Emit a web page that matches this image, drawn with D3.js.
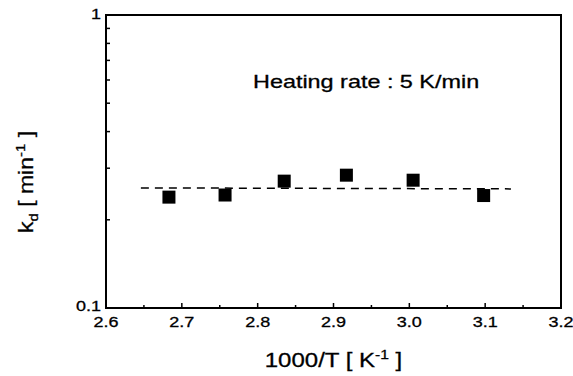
<!DOCTYPE html>
<html>
<head>
<meta charset="utf-8">
<script src="https://cdn.jsdelivr.net/npm/d3@7"></script>
<style>
  body { margin: 0; background: #fff; }
  text { font-family: "Liberation Sans", Arial, sans-serif; fill: #000; stroke: #000; stroke-width: 0.3; }
</style>
</head>
<body>
<div id="chart"></div>
<script>
// measured points
const invT = [2.683, 2.757, 2.835, 2.917, 3.005, 3.098];
const kd = [0.239, 0.243, 0.271, 0.284, 0.273, 0.242];
// dashed fit line (two end points)
const fitX = [2.646, 3.134];
const fitY = [0.257, 0.255];
const xTicks = [2.6, 2.7, 2.8, 2.9, 3.0, 3.1, 3.2];
const xMinor = [2.65, 2.75, 2.85, 2.95, 3.05, 3.15];
const yTicks = [0.1, 1];
const yMinor = [0.2, 0.3, 0.4, 0.5, 0.6, 0.7, 0.8, 0.9];

const width = 573, height = 376;
const margin = {top: 15, right: 12, bottom: 68, left: 106};
const w = width - margin.left - margin.right;
const h = height - margin.top - margin.bottom;

const svg = d3.select('#chart')
  .append('svg')
    .attr('width', width)
    .attr('height', height);

const g = svg.append('g')
  .attr('transform', `translate(${margin.left}, ${margin.top})`);

const xScale = d3.scaleLinear().domain([2.6, 3.2]).range([0, w]);
const yScale = d3.scaleLog().domain([0.1, 1]).range([h, 0]);

// the scanned figure is stretched sideways, so text gets a horizontal scale
const stretch = (x, y, sx) => `translate(${x}, ${y}) scale(${sx}, 1)`;

// frame
g.append('rect')
  .attr('width', w)
  .attr('height', h)
  .attr('fill', 'none')
  .attr('stroke', '#000')
  .attr('stroke-width', 2);

// x ticks (inward)
g.selectAll('.xmaj').data(xTicks.slice(1, -1)).join('line')
  .attr('x1', (d) => xScale(d)).attr('x2', (d) => xScale(d))
  .attr('y1', h).attr('y2', h - 5)
  .attr('stroke', '#000').attr('stroke-width', 1.5);
g.selectAll('.xmin').data(xMinor).join('line')
  .attr('x1', (d) => xScale(d)).attr('x2', (d) => xScale(d))
  .attr('y1', h).attr('y2', h - 3)
  .attr('stroke', '#000').attr('stroke-width', 1.5);
g.selectAll('.xlab').data(xTicks).join('text')
  .attr('transform', (d) => stretch(xScale(d), h + 19, 1.2))
  .attr('text-anchor', 'middle')
  .attr('font-size', 15)
  .text((d) => d.toFixed(1));

// y ticks (inward)
g.selectAll('.ymin').data(yMinor).join('line')
  .attr('x1', 0).attr('x2', 4)
  .attr('y1', (d) => yScale(d)).attr('y2', (d) => yScale(d))
  .attr('stroke', '#000').attr('stroke-width', 1.5);
g.selectAll('.ylab').data(yTicks).join('text')
  .attr('transform', (d) => stretch(-5, yScale(d) + (d === 1 ? 4 : 3), 1.2))
  .attr('text-anchor', 'end')
  .attr('font-size', 15)
  .text((d) => d);

// dashed line
const line = d3.line()
  .x((d) => xScale(d[0]))
  .y((d) => yScale(d[1]));
g.append('path')
  .datum(d3.zip(fitX, fitY))
  .attr('fill', 'none')
  .attr('stroke', '#000')
  .attr('stroke-width', 1.5)
  .attr('stroke-dasharray', '8,6')
  .attr('d', line);

// squares
const s = 13;
g.selectAll('.pt').data(d3.zip(invT, kd)).join('rect')
  .attr('x', (d) => xScale(d[0]) - s / 2)
  .attr('y', (d) => yScale(d[1]) - s / 2)
  .attr('width', s)
  .attr('height', s)
  .attr('fill', '#000');

// annotation
g.append('text')
  .attr('transform', stretch(253 - margin.left, 88 - margin.top, 1.3))
  .attr('font-size', 18)
  .text('Heating rate : 5 K/min');

// axis titles
const xt = svg.append('text')
  .attr('transform', stretch(margin.left + w / 2, 367, 1.2))
  .attr('text-anchor', 'middle')
  .attr('font-size', 20);
xt.append('tspan').text('1000/T [ K');
xt.append('tspan').attr('dy', -8).attr('font-size', 13).text('-1');
xt.append('tspan').attr('dy', 8).text(' ]');

const yt = svg.append('text')
  .attr('transform', `translate(33, 182) rotate(-90) scale(1.15, 1)`)
  .attr('text-anchor', 'middle')
  .attr('font-size', 20);
yt.append('tspan').text('k');
yt.append('tspan').attr('dy', 5).attr('font-size', 13).text('d');
yt.append('tspan').attr('dy', -5).text(' [ min');
yt.append('tspan').attr('dy', -8).attr('font-size', 13).text('-1');
yt.append('tspan').attr('dy', 8).text(' ]');
</script>
</body>
</html>
